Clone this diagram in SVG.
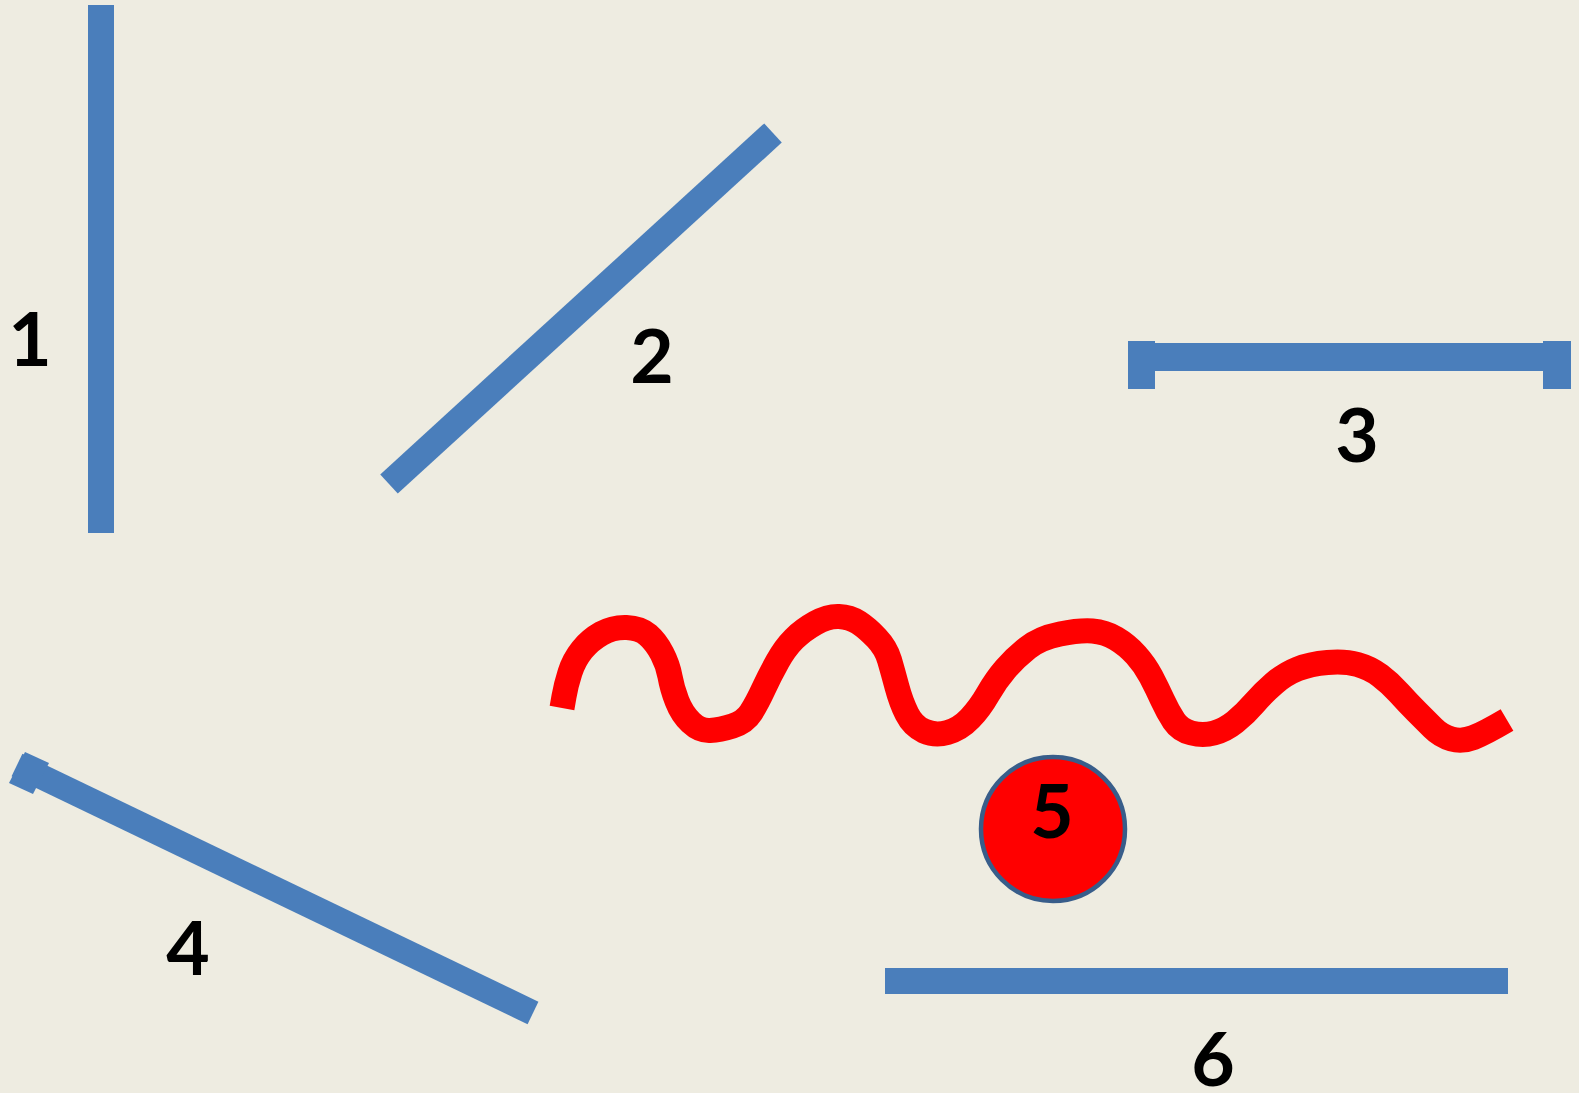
<svg xmlns="http://www.w3.org/2000/svg" width="1579" height="1093" viewBox="0 0 1579 1093">
<style>
.bar{fill:#4A7EBB;}
.ln{stroke:#4A7EBB;fill:none;stroke-linecap:butt;}
.lbl{font-family:Lato,"Open Sans","Liberation Sans",sans-serif;font-weight:700;font-size:75px;fill:#000;text-anchor:middle;}
</style>
<rect x="0" y="0" width="1579" height="1093" fill="#EEECE1"/>
<g id="connectors">
<g id="line1"><rect class="bar" x="88" y="5" width="26" height="528"/></g>
<g id="line2"><line class="ln" x1="389" y1="484" x2="773" y2="133" stroke-width="26"/></g>
<g id="line3">
<rect class="bar" x="1140" y="343" width="418" height="28"/>
<rect class="bar" x="1128" y="341" width="27" height="48"/>
<rect class="bar" x="1543" y="341" width="28" height="48"/>
</g>
<g id="line4">
<line class="ln" x1="17" y1="765" x2="533" y2="1013" stroke-width="25"/>
<polygon class="bar" points="25,752 9,783 33,794 49,763"/>
</g>
<g id="line6"><rect class="bar" x="885" y="968" width="623" height="26"/></g>
<g id="wave">
<path fill="none" stroke="#FF0000" stroke-width="25" stroke-linejoin="round" stroke-linecap="butt" d="M562,708 L564,696.5 Q566,685 570,672.5 Q574,660 582,650 Q590,640 601.5,633.5 Q613,627 626.5,627.5 Q640,628 648,635 Q656,642 662,653.5 Q668,665 670,676.5 Q672,688 677,701 Q682,714 691,722.5 Q700,731 710,730.5 Q720,730 732.5,726 Q745,722 751,712.5 Q757,703 763.5,689 Q770,675 777.5,661.5 Q785,648 794,639 Q803,630 815.5,623 Q828,616 839,616.5 Q850,617 858.5,622.5 Q867,628 876.5,638 Q886,648 889.5,660 Q893,672 897,687 Q901,702 907,714 Q913,726 924,731 Q935,736 947.5,732.5 Q960,729 970,718.5 Q980,708 988,694 Q996,680 1005.5,669 Q1015,658 1027.5,648 Q1040,638 1060,634 Q1080,630 1092.5,631 Q1105,632 1116,638.5 Q1127,645 1136,655 Q1145,665 1151,676.5 Q1157,688 1162.5,700 Q1168,712 1174,721 Q1180,730 1191.5,733 Q1203,736 1214,733 Q1225,730 1235,722 Q1245,714 1254,703.5 Q1263,693 1274,683.5 Q1285,674 1297.5,669 Q1310,664 1327.5,662.5 Q1345,661 1357.5,664.5 Q1370,668 1380,675.5 Q1390,683 1399,693 Q1408,703 1416.5,711.5 Q1425,720 1433,728 Q1441,736 1451.5,739 Q1462,742 1473.5,737.5 Q1485,733 1507,720"/>
</g>
</g>
<g id="node5">
<circle cx="1053" cy="829" r="72" fill="#FF0000" stroke="#385D8A" stroke-width="4.5"/>
<text class="lbl" x="1052" y="838">5</text>
</g>
<g id="label1"><text class="lbl" x="30" y="366">1</text></g>
<g id="label2"><text class="lbl" x="652" y="383">2</text></g>
<g id="label3"><text class="lbl" x="1357" y="462">3</text></g>
<g id="label4"><text class="lbl" x="188" y="975">4</text></g>
<g id="label6"><text class="lbl" x="1213" y="1086">6</text></g>
</svg>
